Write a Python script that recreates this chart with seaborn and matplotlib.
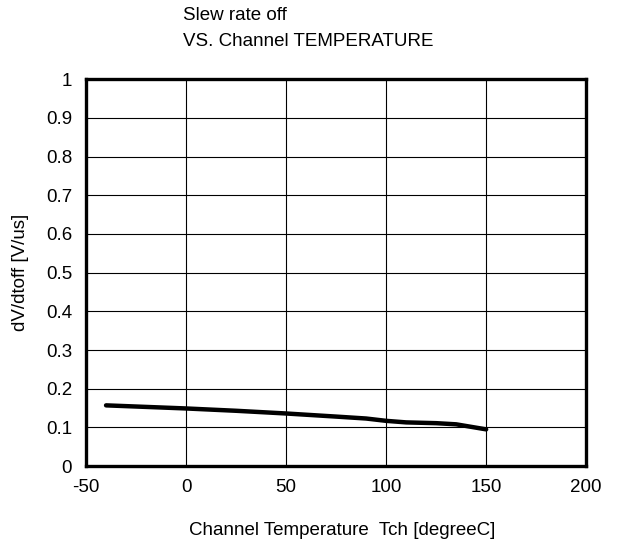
import numpy as np
import matplotlib
matplotlib.use("Agg")
import matplotlib.pyplot as plt
import seaborn as sns
import pandas as pd

# -------------------------
# DATA
# -------------------------
temp = [-40, 0, 25, 50, 75, 90, 100, 110, 125, 135, 150]
slew = [0.157, 0.149, 0.143, 0.136, 0.128, 0.123, 0.117, 0.113, 0.111, 0.108, 0.095]

x_ticks = [-50, 0, 50, 100, 150, 200]
y_ticks = [0, 0.1, 0.2, 0.3, 0.4, 0.5, 0.6, 0.7, 0.8, 0.9, 1]
y_tick_labels = ["0", "0.1", "0.2", "0.3", "0.4", "0.5", "0.6", "0.7", "0.8", "0.9", "1"]

df = pd.DataFrame({"Tch": temp, "dVdt": slew})

sns.set_style("white")
plt.rcParams['font.family'] = ['Liberation Sans', 'DejaVu Sans']
plt.rcParams['axes.unicode_minus'] = False
plt.rcParams['text.color'] = 'black'
plt.rcParams['axes.labelcolor'] = 'black'

fig = plt.figure(figsize=(6.19, 5.42), dpi=100)
ax = fig.add_axes([0.139, 0.140, 0.808, 0.714])

sns.lineplot(data=df, x="Tch", y="dVdt", color="black", linewidth=3.2, ax=ax)

ax.set_xlim(-50, 200)
ax.set_ylim(0, 1)
ax.set_xticks(x_ticks)
ax.set_yticks(y_ticks)
ax.set_yticklabels(y_tick_labels)
ax.tick_params(axis="both", length=0, labelsize=13.5, colors="black")
ax.tick_params(axis="y", pad=10)
ax.tick_params(axis="x", pad=9)

ax.grid(True, color="black", linewidth=0.8)
ax.set_axisbelow(True)
for s in ax.spines.values():
    s.set_visible(True)
    s.set_color("black")
    s.set_linewidth(2.4)

ax.set_xlabel("Channel Temperature  Tch [degreeC]", fontsize=13.5)
ax.set_ylabel("dV/dtoff [V/us]", fontsize=13.5, labelpad=12)
ax.xaxis.set_label_coords(0.512, -0.145)

# two-line header, left aligned
fig.text(183 / 619, 1 - 16 / 542, "Slew rate off", fontsize=13.5, ha="left", va="center")
fig.text(183 / 619, 1 - 41 / 542, "VS. Channel TEMPERATURE", fontsize=13.5, ha="left", va="center")

plt.savefig("out.png", dpi=100)
